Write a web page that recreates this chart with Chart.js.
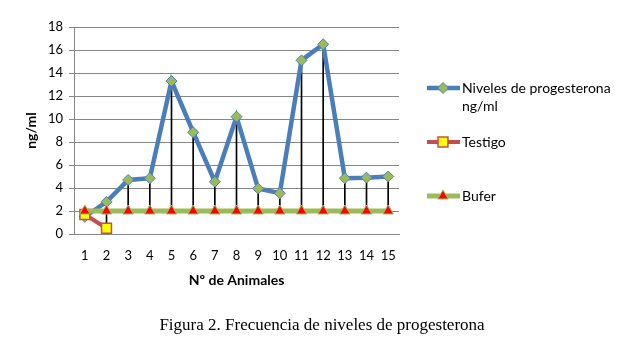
<!DOCTYPE html>
<html>
<head>
<meta charset="utf-8">
<script src="https://cdn.jsdelivr.net/npm/chart.js@4.4.1/dist/chart.umd.min.js"></script>
<style>
  body { margin: 0; background: #fff; }
  #wrap { width: 620px; height: 345px; }
</style>
</head>
<body>
<div id="wrap"><canvas id="progChart" width="620" height="345"></canvas></div>
<script>
const animales = ['1', '2', '3', '4', '5', '6', '7', '8', '9', '10', '11', '12', '13', '14', '15'];
const niveles = [1.5, 2.8, 4.7, 4.85, 13.3, 8.85, 4.55, 10.2, 3.95, 3.55, 15.1, 16.5, 4.85, 4.9, 5.0];
const testigo = [1.7, 0.5, null, null, null, null, null, null, null, null, null, null, null, null, null];
const bufer = [2, 2, 2, 2, 2, 2, 2, 2, 2, 2, 2, 2, 2, 2, 2];
const yTicks = [0, 2, 4, 6, 8, 10, 12, 14, 16, 18];

// high-low lines: span of all series at each animal
const hiLo = animales.map((_, i) => {
  const vals = [niveles[i], testigo[i], bufer[i]].filter(v => v !== null);
  return [Math.min(...vals), Math.max(...vals)];
});

const tickFont = { family: 'Lato', size: 13 };

const sideLegend = {
  id: 'sideLegend',
  afterDraw(chart) {
    const ctx = chart.ctx;
    const items = [
      { ds: 1, y: 88, lines: ['Niveles de progesterona', 'ng/ml'] },
      { ds: 2, y: 142, lines: ['Testigo'] },
      { ds: 3, y: 196, lines: ['Bufer'] }
    ];
    ctx.save();
    items.forEach(it => {
      const d = chart.data.datasets[it.ds];
      ctx.strokeStyle = d.borderColor;
      ctx.lineWidth = d.borderWidth;
      ctx.beginPath();
      ctx.moveTo(427, it.y);
      ctx.lineTo(460, it.y);
      ctx.stroke();
      ctx.fillStyle = d.pointBackgroundColor;
      ctx.strokeStyle = d.pointBorderColor;
      ctx.lineWidth = d.pointBorderWidth;
      Chart.helpers.drawPoint(ctx, { pointStyle: d.pointStyle, radius: d.pointRadius, borderWidth: d.pointBorderWidth }, 443, it.y);
      ctx.fillStyle = '#000';
      ctx.font = '14px Lato';
      ctx.textBaseline = 'middle';
      ctx.textAlign = 'left';
      it.lines.forEach((t, k) => ctx.fillText(t, 462, it.y + k * 18));
    });
    ctx.font = '17px "Liberation Serif"';
    ctx.textAlign = 'center';
    ctx.fillText('Figura 2. Frecuencia de niveles de progesterona', 322, 326);
    ctx.restore();
  }
};

const ctx = document.getElementById('progChart').getContext('2d');
const progChart = new Chart(ctx, {
  type: 'line',
  data: {
    labels: animales,
    datasets: [
      {
        type: 'bar',
        label: 'hilo',
        data: hiLo,
        backgroundColor: '#000',
        barThickness: 1,
        order: 4
      },
      {
        label: 'Niveles de progesterona ng/ml',
        data: niveles,
        borderColor: '#4A7EBB',
        borderWidth: 4.5,
        pointStyle: 'rectRot',
        pointRadius: 5.5,
        pointBackgroundColor: '#9BBB59',
        pointBorderColor: '#4F81BD',
        pointBorderWidth: 1,
        tension: 0,
        order: 3
      },
      {
        label: 'Testigo',
        data: testigo,
        borderColor: '#C0504D',
        borderWidth: 4,
        pointStyle: 'rect',
        pointRadius: 7,
        pointBackgroundColor: '#FFFF00',
        pointBorderColor: '#C0504D',
        pointBorderWidth: 1.5,
        spanGaps: false,
        order: 2
      },
      {
        label: 'Bufer',
        data: bufer,
        borderColor: '#9BBB59',
        borderWidth: 5,
        pointStyle: 'triangle',
        pointRadius: 6,
        pointBackgroundColor: '#FF0000',
        pointBorderColor: '#9BBB59',
        pointBorderWidth: 1,
        order: 1
      }
    ]
  },
  options: {
    responsive: false,
    animation: false,
    devicePixelRatio: 1,
    layout: { padding: { left: 20, right: 221, top: 27, bottom: 56 } },
    plugins: {
      legend: { display: false },
      tooltip: { enabled: false }
    },
    scales: {
      x: {
        offset: true,
        grid: { display: false },
        border: { display: true, color: '#868686' },
        ticks: { color: '#000', font: tickFont, padding: 6, maxRotation: 0 },
        title: {
          display: true,
          text: 'Nº de Animales',
          color: '#000',
          font: { family: 'Lato', size: 14, weight: 'bold' },
          padding: { top: 2, bottom: 0 }
        },
        afterFit(scale) { scale.height = 55; }
      },
      y: {
        min: 0,
        max: 18,
        afterBuildTicks(scale) { scale.ticks = yTicks.map(v => ({ value: v })); },
        grid: { color: '#868686', tickLength: 5 },
        border: { display: true, color: '#868686' },
        ticks: { color: '#000', font: tickFont, padding: 6 },
        title: {
          display: true,
          text: 'ng/ml',
          color: '#000',
          font: { family: 'Lato', size: 14, weight: 'bold' },
          padding: { top: 3, bottom: 0 }
        },
        afterFit(scale) { scale.width = 54; }
      }
    }
  },
  plugins: [sideLegend]
});
</script>
</body>
</html>
